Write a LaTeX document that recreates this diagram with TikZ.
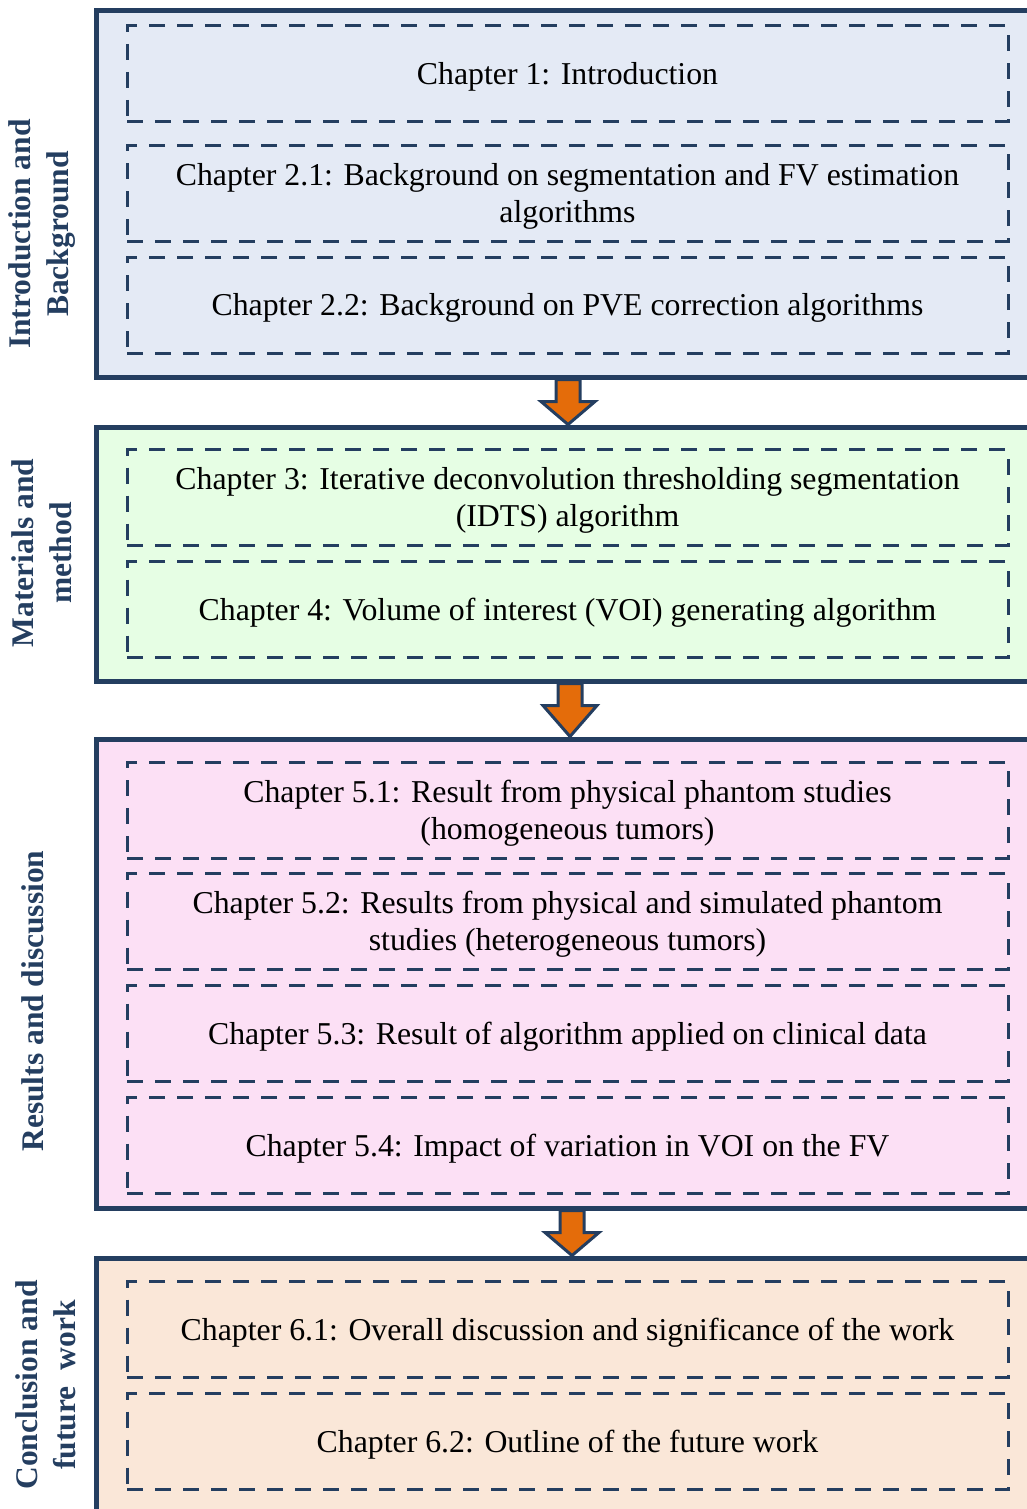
\documentclass[tikz,border=0pt]{standalone}
\usepackage{fontspec}
\setmainfont{Liberation Serif}
\usetikzlibrary{calc}
\definecolor{navy}{HTML}{243E60}
\definecolor{fillA}{HTML}{E4EAF5}
\definecolor{fillB}{HTML}{E6FEE4}
\definecolor{fillC}{HTML}{FCE0F5}
\definecolor{fillD}{HTML}{FAE7D8}
\definecolor{arrorange}{HTML}{E46C0A}
\tikzset{
  outerbox/.style={draw=navy, line width=5pt, minimum width=948.5pt, inner sep=0pt, anchor=center},
  chapbox/.style={draw=navy, line width=3pt, dash pattern=on 16pt off 12pt, minimum width=881pt, minimum height=96pt, inner sep=0pt},
  chaptext/.style={align=center, inner sep=0pt, font=\fontsize{31.8}{37}\selectfont},
  sidelabel/.style={rotate=90, align=center, font=\fontsize{31.5}{38}\selectfont\bfseries, text=navy},
  blockarrow/.style={fill=arrorange, draw=navy, line width=3pt, line join=miter}
}
\newcommand{\blockarr}[3]{% from node, to node, x offset
  \coordinate (tt) at ($(#1.south)+(#3,0)$);
  \coordinate (hh) at ($(#2.north)+(#3,0)$);
  \filldraw[blockarrow] ($(tt)+(-12,0)$) -- ($(tt)+(12,0)$) -- ($(tt)+(12,22)$) -- ($(tt)+(27,22)$) -- (hh) -- ($(tt)+(-27,22)$) -- ($(tt)+(-12,22)$) -- cycle;}
\newcommand{\chapter}[3]{% name, y, text
  \node[chapbox] (#1) at (567.5,#2) {};
  \node[chaptext] (#1t) at ($(#1.center)+(0,3)$) {#3};}
\begin{document}
\begin{tikzpicture}[x=1pt,y=-1pt]
\useasboundingbox (0,0) rectangle (1027,1509);
\clip (0,0) rectangle (1027,1509);
% outer boxes
\node[outerbox, fill=fillA, minimum height=366.5pt] (b1) at (570.75,193.75) {};
\node[outerbox, fill=fillB, minimum height=254pt] (b2) at (570.75,554) {};
\node[outerbox, fill=fillC, minimum height=469pt] (b3) at (570.75,973.5) {};
\node[outerbox, fill=fillD, minimum height=272pt] (b4) at (570.75,1394) {};
% arrows between boxes
\blockarr{b1}{b2}{-2.75}
\blockarr{b2}{b3}{-0.75}
\blockarr{b3}{b4}{1.25}
% chapter boxes
\chapter{c1}{74}{Chapter 1: Introduction}
\chapter{c21}{193}{Chapter 2.1: Background on segmentation and FV estimation\\algorithms}
\chapter{c22}{305}{Chapter 2.2: Background on PVE correction algorithms}
\chapter{c3}{497.5}{Chapter 3: Iterative deconvolution thresholding segmentation\\(IDTS) algorithm}
\chapter{c4}{609.5}{Chapter 4: Volume of interest (VOI) generating algorithm}
\chapter{c51}{810}{Chapter 5.1: Result from physical phantom studies\\(homogeneous tumors)}
\chapter{c52}{921.5}{Chapter 5.2: Results from physical and simulated phantom\\studies (heterogeneous tumors)}
\chapter{c53}{1033.5}{Chapter 5.3: Result of algorithm applied on clinical data}
\chapter{c54}{1145.5}{Chapter 5.4: Impact of variation in VOI on the FV}
\chapter{c61}{1329.5}{Chapter 6.1: Overall discussion and significance of the work}
\chapter{c62}{1441.5}{Chapter 6.2: Outline of the future work}
% side labels
\node[sidelabel] (s1) at (42,234) {Introduction and\\Background};
\node[sidelabel] (s2) at (42,553) {Materials and\\method};
\node[sidelabel] (s3) at (33,1001) {Results and discussion};
\node[sidelabel] (s4) at (46,1385) {Conclusion and\\future\ \ work};
\end{tikzpicture}
\end{document}
